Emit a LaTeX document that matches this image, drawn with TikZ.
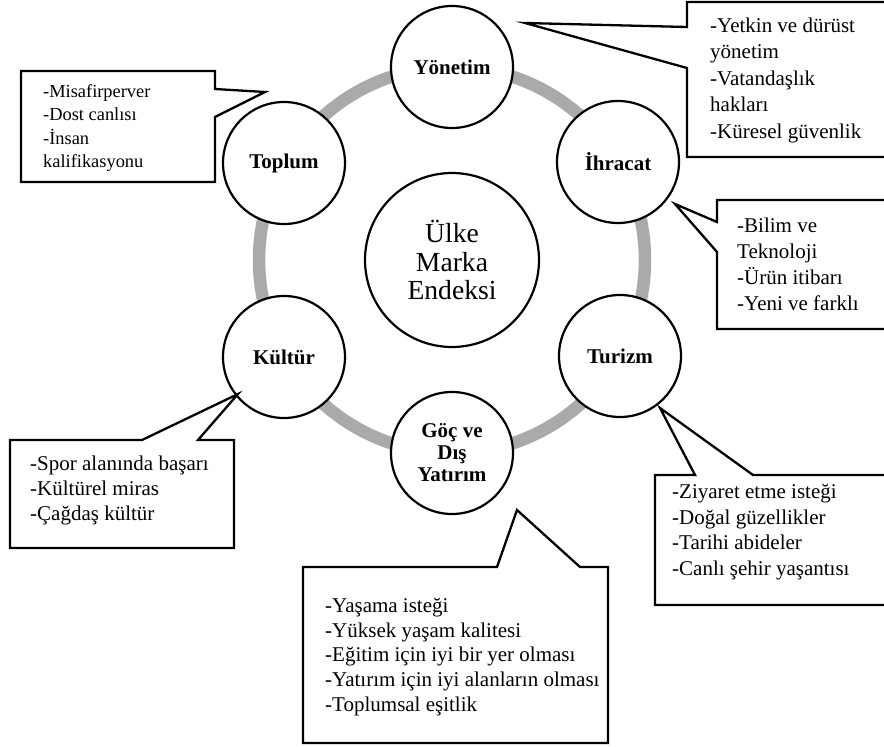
\documentclass[tikz,border=0pt]{standalone}
\usepackage{fontspec}
\setmainfont{Liberation Serif}
\usetikzlibrary{positioning, calc}
\definecolor{ringgray}{RGB}{170, 170, 170}
\tikzset{
  hubnode/.style={circle, draw, line width=2.2pt, fill=white, minimum size=174pt, inner sep=0pt, align=center, font=\fontsize{27.6}{28.5}\selectfont},
  factornode/.style={circle, draw, line width=2.2pt, fill=white, minimum size=122pt, inner sep=0pt, align=center, font=\fontsize{21}{22}\selectfont\bfseries},
  ringline/.style={draw=ringgray, line width=12.5pt},
  calloutbox/.style={draw, line width=2.3pt, fill=white, line join=miter},
  notetext/.style={anchor=west, align=left, inner sep=0pt, font=\fontsize{21}{25.5}\selectfont},
}

\begin{document}
\begin{tikzpicture}[x=1pt, y=-1pt]
  \useasboundingbox (0,0) rectangle (884,747);
  \clip (0,0) rectangle (884,747);
  % ring and circles
  \draw[ringline] (452,260) circle[radius=193pt];
  \node[hubnode] (hub) at (452,260) {Ülke\\Marka\\Endeksi};
  \node[factornode] (yon) at (452,67) {Yönetim};
  \node[factornode] (ihr) at (618,162) {İhracat};
  \node[factornode] (tur) at (620,356) {Turizm};
  \node[factornode] (goc) at (452,453) {Göç ve\\Dış\\Yatırım};
  \node[factornode] (kul) at (284,357) {Kültür};
  \node[factornode] (top) at (284,163) {Toplum};
  % callout tips
  \coordinate (yontip) at (525,23);
  \coordinate (ihrtip) at (675,204);
  \coordinate (turtip) at (660,408);
  \coordinate (goctip) at (517,510);
  \coordinate (kultip) at (238,394);
  \coordinate (toptip) at (265,92);
  % callouts
  \draw[calloutbox] (687,27) -- (687,2) -- (895,2) -- (895,157) -- (687,157) -- (687,68) -- (yontip) -- cycle;
  \draw[calloutbox] (717,222) -- (717,200) -- (895,200) -- (895,329) -- (717,329) -- (717,252) -- (ihrtip) -- cycle;
  \draw[calloutbox] (695,475) -- (turtip) -- (753,475) -- (895,475) -- (895,605) -- (655,605) -- (655,475) -- cycle;
  \draw[calloutbox] (497,567) -- (goctip) -- (580,567) -- (608,567) -- (608,743) -- (303,743) -- (303,567) -- cycle;
  \draw[calloutbox] (142,440) -- (kultip) -- (198,440) -- (234,440) -- (234,548) -- (10,548) -- (10,440) -- cycle;
  \draw[calloutbox] (215,89) -- (toptip) -- (215,117) -- (215,182) -- (21,182) -- (21,71) -- (215,71) -- cycle;
  % notes
  \node[notetext, font=\fontsize{21}{26.5}\selectfont] (yonnote) at (710,80) {-Yetkin ve dürüst\\yönetim\\-Vatandaşlık\\hakları\\-Küresel güvenlik};
  \node[notetext, font=\fontsize{21}{26}\selectfont] (ihrnote) at (737,264) {-Bilim ve\\Teknoloji\\-Ürün itibarı\\-Yeni ve farklı};
  \node[notetext] (turnote) at (672,532) {-Ziyaret etme isteği\\-Doğal güzellikler\\-Tarihi abideler\\-Canlı şehir yaşantısı};
  \node[notetext, font=\fontsize{21}{24.75}\selectfont] (gocnote) at (325,657) {-Yaşama isteği\\-Yüksek yaşam kalitesi\\-Eğitim için iyi bir yer olması\\-Yatırım için iyi alanların olması\\-Toplumsal eşitlik};
  \node[notetext, font=\fontsize{21}{25}\selectfont] (kulnote) at (30,490) {-Spor alanında başarı\\-Kültürel miras\\-Çağdaş kültür};
  \node[notetext, font=\fontsize{18.4}{23.3}\selectfont] (topnote) at (43,128) {-Misafirperver\\-Dost canlısı\\-İnsan\\kalifikasyonu};
\end{tikzpicture}
\end{document}
